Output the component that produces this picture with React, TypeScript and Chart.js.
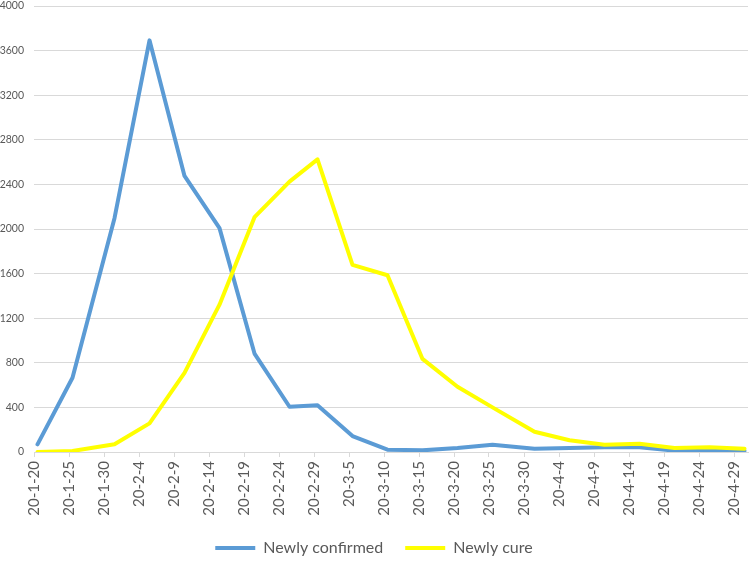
import React, { useEffect, useRef } from "react";
import { Chart, registerables } from "chart.js";

Chart.register(...registerables);

// Data dates (yy-mm-dd) and values
const dates = [
  "2020-01-20", "2020-01-25", "2020-01-31", "2020-02-05", "2020-02-10", "2020-02-15",
  "2020-02-20", "2020-02-25", "2020-02-29", "2020-03-05", "2020-03-10", "2020-03-15",
  "2020-03-20", "2020-03-25", "2020-03-31", "2020-04-05", "2020-04-10", "2020-04-15",
  "2020-04-20", "2020-04-25", "2020-04-30",
];
const newlyConfirmed = [69, 666, 2097, 3692, 2476, 2008, 883, 406, 420, 143, 21, 15, 36, 64, 30, 36, 43, 43, 12, 15, 12];
const newlyCure = [0, 9, 69, 257, 710, 1321, 2106, 2425, 2625, 1679, 1585, 835, 585, 400, 182, 105, 66, 73, 36, 42, 30];

const xTickLabels = [
  "20-1-20", "20-1-25", "20-1-30", "20-2-4", "20-2-9", "20-2-14", "20-2-19", "20-2-24",
  "20-2-29", "20-3-5", "20-3-10", "20-3-15", "20-3-20", "20-3-25", "20-3-30", "20-4-4",
  "20-4-9", "20-4-14", "20-4-19", "20-4-24", "20-4-29",
];
const yTicks = [0, 400, 800, 1200, 1600, 2000, 2400, 2800, 3200, 3600, 4000];
const seriesNames = ["Newly confirmed", "Newly cure"];
const seriesColors = ["#5B9BD5", "#FFFF00"];

const DAY = 86400000;
const START = Date.UTC(2020, 0, 20);
const dayOf = (iso: string) => {
  const [y, m, d] = iso.split("-").map(Number);
  return Math.round((Date.UTC(y, m - 1, d) - START) / DAY);
};
const dayOfLabel = (lbl: string) => {
  const [y, m, d] = lbl.split("-").map(Number);
  return Math.round((Date.UTC(2000 + y, m - 1, d) - START) / DAY);
};
const tickDays = xTickLabels.map(dayOfLabel);
const lastDay = dayOf(dates[dates.length - 1]) + 1;

export default function App() {
  const ref = useRef<HTMLCanvasElement | null>(null);
  useEffect(() => {
    const canvas = ref.current;
    if (!canvas) return;
    const grey = "#595959";
    const gridC = "#D9D9D9";
    const mk = (vals: number[]) => vals.map((v, i) => ({ x: dayOf(dates[i]) + 0.5, y: v }));
    const zeroPad = (scale: any) => {
      scale.paddingLeft = 0;
      scale.paddingRight = 0;
      scale.paddingTop = 0;
      scale.paddingBottom = 0;
    };
    const chart = new Chart(canvas, {
      type: "line",
      data: {
        datasets: [
          {
            label: seriesNames[0],
            data: mk(newlyConfirmed),
            borderColor: seriesColors[0],
            backgroundColor: seriesColors[0],
            borderWidth: 4,
            pointRadius: 0,
            borderJoinStyle: "round",
            borderCapStyle: "round",
            tension: 0,
            order: 1,
          },
          {
            label: seriesNames[1],
            data: mk(newlyCure),
            borderColor: seriesColors[1],
            backgroundColor: seriesColors[1],
            borderWidth: 4,
            pointRadius: 0,
            borderJoinStyle: "round",
            borderCapStyle: "round",
            tension: 0,
            order: 0,
          },
        ],
      },
      options: {
        responsive: false,
        animation: false,
        events: [],
        layout: { padding: { top: 6, right: 2, left: 0, bottom: -5 } },
        scales: {
          x: {
            type: "linear",
            min: 0,
            max: lastDay,
            afterBuildTicks: (scale: any) => {
              scale.ticks = tickDays.map((v) => ({ value: v }));
            },
            afterFit: (scale: any) => {
              scale.height = 66;
              zeroPad(scale);
            },
            ticks: {
              autoSkip: false,
              minRotation: 90,
              maxRotation: 90,
              padding: 4,
              color: grey,
              font: { family: "Lato", size: 15 },
              callback: (value: any) => {
                const i = tickDays.indexOf(Number(value));
                return i >= 0 ? xTickLabels[i] : "";
              },
            },
            grid: {
              drawOnChartArea: false,
              drawTicks: true,
              tickLength: 5,
              color: gridC,
            },
            border: { color: gridC, width: 1 },
          },
          y: {
            min: 0,
            max: 4000,
            afterBuildTicks: (scale: any) => {
              scale.ticks = yTicks.map((v) => ({ value: v }));
            },
            afterFit: (scale: any) => {
              scale.width = 34;
              zeroPad(scale);
            },
            ticks: {
              padding: 10,
              color: grey,
              font: { family: "Lato", size: 10.5 },
              callback: (value: any) => String(value),
            },
            grid: { color: gridC, drawTicks: false, lineWidth: 1 },
            border: { display: false },
          },
        },
        plugins: {
          tooltip: { enabled: false },
          legend: {
            position: "bottom",
            labels: {
              color: grey,
              font: { family: "Lato", size: 16 },
              boxWidth: 40,
              boxHeight: 4,
              padding: 22,
              sort: (a: any, b: any) => a.datasetIndex - b.datasetIndex,
              generateLabels: (ch: any) =>
                ch.data.datasets.map((ds: any, i: number) => ({
                  text: ds.label,
                  fillStyle: ds.borderColor,
                  strokeStyle: ds.borderColor,
                  lineWidth: 0,
                  fontColor: grey,
                  hidden: false,
                  datasetIndex: i,
                })),
            },
          },
        },
      },
    } as any);
    return () => chart.destroy();
  }, []);
  return (
    <div style={{ position: "fixed", left: 0, top: 0, width: 750, height: 561, background: "#fff" }}>
      <canvas ref={ref} width={750} height={561} />
    </div>
  );
}
